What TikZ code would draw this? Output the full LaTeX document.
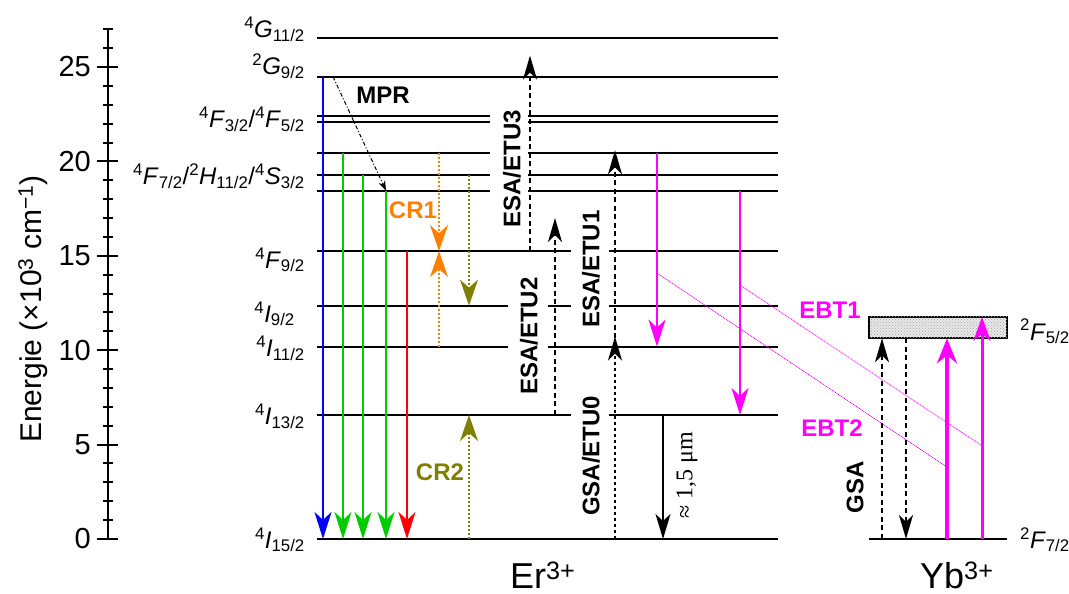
\documentclass[tikz,border=0pt]{standalone}
\usepackage{fontspec}
\setmainfont{Liberation Sans}
\newfontfamily\symfont{Liberation Serif}
\usetikzlibrary{arrows.meta, patterns}
\definecolor{cblue}{RGB}{0,0,255}
\definecolor{cgreen}{RGB}{0,204,0}
\definecolor{cred}{RGB}{255,0,0}
\definecolor{corange}{RGB}{255,128,0}
\definecolor{colive}{RGB}{128,128,0}
\definecolor{cmag}{RGB}{255,0,255}
\newcommand{\lvl}[3]{\textsuperscript{#1}\textit{#2}\textsubscript{#3}}

\begin{document}
\begin{tikzpicture}[
  x=1pt, y=18.88pt,
  level/.style={line width=2pt},
  emis/.style={line width=2.2pt, -{Stealth[length=27pt, width=17pt, inset=8pt]}},
  pump/.style={line width=2pt, dash pattern=on 5pt off 3.5pt,
    -{Stealth[length=24pt, width=14pt, inset=7pt]}},
  cross/.style={line width=2pt, dash pattern=on 2pt off 2pt,
    -{Stealth[length=26pt, width=18pt, inset=8pt]}},
  ebt/.style={cmag, line width=0.8pt, dash pattern=on 1pt off 0.8pt},
  lvllab/.style={font=\fontsize{24}{26}\selectfont, inner sep=0pt},
  proc/.style={font=\fontsize{24}{26}\selectfont\bfseries, inner sep=0pt},
  ticklab/.style={font=\fontsize{29}{32}\selectfont, anchor=east, inner sep=0pt},
  ion/.style={font=\fontsize{36}{40}\selectfont, anchor=base west, inner sep=0pt},
]
\useasboundingbox (0,-2.913) rectangle (1069,28.549);

% energy levels (10^3 cm^-1) and columns (pt)
\foreach \n/\e in {I152/0, I132/6.57, I112/10.19, I92/12.36, F92/15.25,
  S32/18.45, H112/19.26, F72/20.43, F52/22.10, F32/22.40, G92/24.49,
  G112/26.54, Yb72/0, Yb52a/10.63, Yb52b/11.77}
  \coordinate (\n) at (0,\e);
\foreach \n/\x in {xL/317, xR/778, gA/490, gB/528, gC/508, gD/548, gE/571,
  gF/609, xBlue/323, xGa/343, xGb/363, xGc/386, xRed/407, xCRa/439,
  xCRb/469, xE3/530, xE2/555, xE1/615, xMa/657, xIR/663, xMb/740,
  xMPR/333, yL/869, yR/1007, xYa/882, xYb/906, xYc/947, xYd/982}
  \coordinate (\n) at (\x,0);
\coordinate (E2top) at (555,17.0);
\coordinate (ebt1a) at (740,13.45);
\coordinate (ebt1b) at (982,4.93);
\coordinate (ebt2a) at (657,14.09);
\coordinate (ebt2b) at (947,3.81);

% axis
\draw[level] (108,0) -- (108,27);
\foreach \e in {0,...,27}
  \draw[level] (103,\e) -- (113,\e);
\foreach \e in {0,5,...,25} {
  \draw[level] (97,\e) -- (118,\e);
  \node[ticklab] (t\e) at (91,\e) {\e};
}
\node[rotate=90, anchor=base, inner sep=0pt, font=\fontsize{30}{32}\selectfont]
  (ylab) at (42,12.18) {Energie (×10\textsuperscript{3} cm\textsuperscript{−1})};

% Er levels
\draw[level] (xL |- G112) -- (xR |- G112);
\draw[level] (xL |- G92) -- (xR |- G92);
\foreach \l in {F32,F52,F72,H112,S32}
  \draw[level] (xL |- \l) -- (gA |- \l) (gB |- \l) -- (xR |- \l);
\draw[level] (xL |- F92) -- (gE |- F92) (gF |- F92) -- (xR |- F92);
\draw[level] (xL |- I92) -- (gC |- I92) (gD |- I92) -- (gE |- I92)
  (gF |- I92) -- (xR |- I92);
\draw[level] (xL |- I112) -- (gC |- I112) (gD |- I112) -- (xR |- I112);
\draw[level] (xL |- I132) -- (gE |- I132) (gF |- I132) -- (xR |- I132);
\draw[level] (xL |- I152) -- (xR |- I152);

\node[lvllab, anchor=base east] (lG112) at (305,26.54) {\lvl{4}{G}{11/2}};
\node[lvllab, anchor=base east] (lG92) at (305,24.58) {\lvl{2}{G}{9/2}};
\node[lvllab, anchor=base east] (lF32) at (305,21.77)
  {\lvl{4}{F}{3/2}/\lvl{4}{F}{5/2}};
\node[lvllab, anchor=base east] (lF72) at (305,18.75)
  {\lvl{4}{F}{7/2}/\lvl{2}{H}{11/2}/\lvl{4}{S}{3/2}};
\node[lvllab, anchor=base east] (lF92) at (305,14.35) {\lvl{4}{F}{9/2}};
\node[lvllab, anchor=base east] (lI92) at (295,11.49) {\lvl{4}{I}{9/2}};
\node[lvllab, anchor=base east] (lI112) at (305,9.64) {\lvl{4}{I}{11/2}};
\node[lvllab, anchor=base east] (lI132) at (305,6.04) {\lvl{4}{I}{13/2}};
\node[lvllab, anchor=base east] (lI152) at (305,-0.48) {\lvl{4}{I}{15/2}};

% emissions
\draw[emis, cblue] (xBlue |- G92) -- (xBlue |- I152);
\draw[emis, cgreen] (xGa |- F72) -- (xGa |- I152);
\draw[emis, cgreen] (xGb |- H112) -- (xGb |- I152);
\draw[emis, cgreen] (xGc |- S32) -- (xGc |- I152);
\draw[emis, cred] (xRed |- F92) -- (xRed |- I152);
\draw[line width=1pt, dash pattern=on 4pt off 2pt on 1pt off 2pt,
  -{Stealth[length=10pt, width=7pt]}] (xMPR |- G92) -- (xGc |- S32);
\node[proc] (mpr) at (383,23.52) {MPR};

% cross relaxation
\draw[cross, corange] (xCRa |- F72) -- (xCRa |- F92);
\draw[cross, corange] (xCRa |- I112) -- (xCRa |- F92);
\node[proc, text=corange] (cr1) at (413,17.43) {CR1};
\draw[cross, colive] (xCRb |- H112) -- (xCRb |- I92);
\draw[cross, colive] (xCRb |- I152) -- (xCRb |- I132);
\node[proc, text=colive] (cr2) at (440,3.55) {CR2};

% absorption / upconversion
\draw[pump, shorten >=-21pt] (xE3 |- F92) -- (xE3 |- G92);
\draw[pump] (xE2 |- I132) -- (E2top);
\draw[pump, shorten >=-3pt] (xE1 |- I112) -- (xE1 |- F72);
\draw[pump, dash pattern=on 3pt off 3pt, shorten >=-10pt] (xE1 |- I152) -- (xE1 |- I112);
\node[proc, rotate=90] (etu3) at (512,19.60) {ESA/ETU3};
\node[proc, rotate=90] (etu1) at (591,14.30) {ESA/ETU1};
\node[proc, rotate=90] (etu2) at (529,10.75) {ESA/ETU2};
\node[proc, rotate=90] (etu0) at (591,4.40) {GSA/ETU0};

\draw[emis, line width=1.6pt, -{Stealth[length=25pt, width=15pt, inset=7pt]}]
  (xIR |- I132) -- (xIR |- I152);
\node[rotate=90, inner sep=0pt, font=\symfont\fontsize{24}{26}\selectfont]
  (lir) at (687,3.39) {≈ 1,5 μm};

% energy back transfer
\draw[emis, cmag] (xMa |- F72) -- (xMa |- I112);
\draw[emis, cmag] (xMb |- S32) -- (xMb |- I132);
\draw[ebt] (ebt1a) -- (ebt1b);
\draw[ebt] (ebt2a) -- (ebt2b);
\node[proc, text=cmag] (ebt1) at (830,12.13) {EBT1};
\node[proc, text=cmag] (ebt2) at (832,5.88) {EBT2};

% Yb levels
\draw[level, fill=gray!18,
  postaction={pattern=crosshatch dots, pattern color=gray!70}]
  (yL |- Yb52a) rectangle (yR |- Yb52b);
\draw[level] (yL |- Yb72) -- (yR |- Yb72);
\node[lvllab, anchor=base west] (lYb52) at (1020,10.54) {\lvl{2}{F}{5/2}};
\node[lvllab, anchor=base west] (lYb72) at (1020,-0.48) {\lvl{2}{F}{7/2}};

\draw[pump] (xYa |- Yb72) -- (xYa |- Yb52a);
\draw[pump] (xYb |- Yb52a) -- (xYb |- Yb72);
\draw[cmag, line width=4pt, -{Stealth[length=25pt, width=20pt, inset=8pt]}]
  (xYc |- Yb72) -- (xYc |- Yb52a);
\draw[cmag, line width=3pt, -{Stealth[length=24pt, width=17pt, inset=7pt]}]
  (xYd |- Yb72) -- (xYd |- Yb52b);
\node[proc, rotate=90] (gsa) at (855,2.75) {GSA};

\node[ion] (er) at (510,-2.60) {Er\textsuperscript{3+}};
\node[ion] (yb) at (920,-2.60) {Yb\textsuperscript{3+}};
\end{tikzpicture}
\end{document}
